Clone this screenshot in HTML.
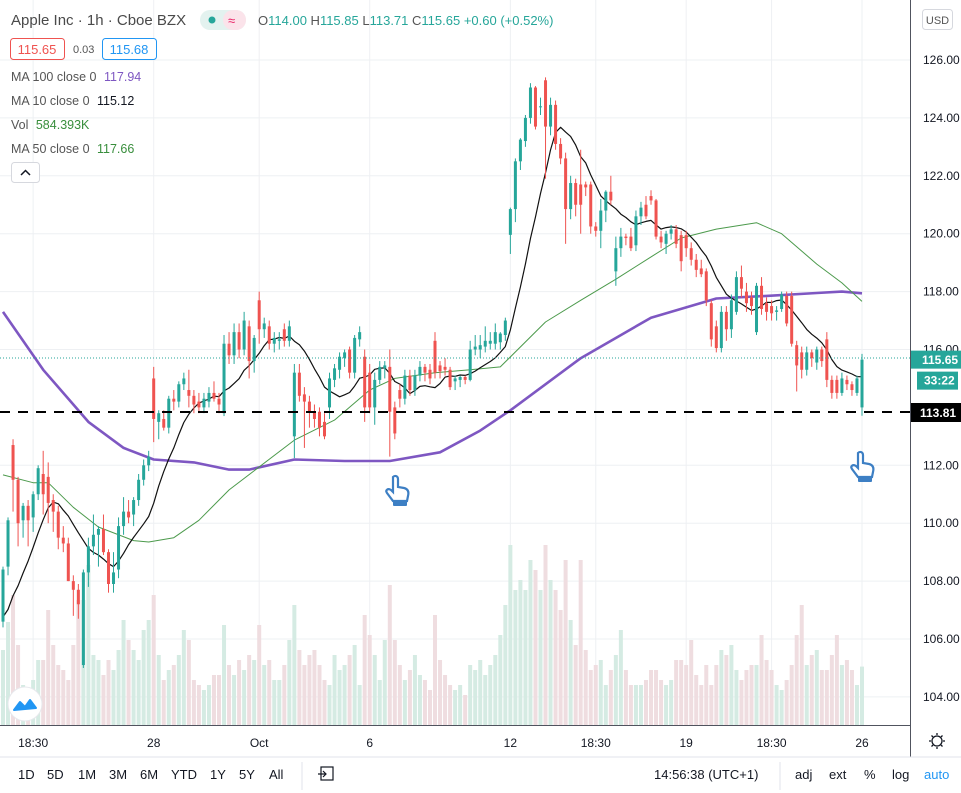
<!DOCTYPE html>
<html><head><meta charset="utf-8"><style>
html,body{margin:0;padding:0;background:#fff;width:961px;height:793px;overflow:hidden;font-family:"Liberation Sans",sans-serif;}
svg{display:block}
text{font-family:"Liberation Sans",sans-serif;}
</style></head><body>
<svg id="chart" width="961" height="793" viewBox="0 0 961 793" xmlns="http://www.w3.org/2000/svg">
<rect x="0" y="0" width="961" height="793" fill="#fff"/>
<g id="grid"></g>
<g id="vols"></g>
<g id="mas"></g>
<g id="candles"></g>
<line x1="0" y1="358" x2="910" y2="358" stroke="#26a69a" stroke-width="1" stroke-dasharray="1,2" id="lastline"/>
<line x1="0" y1="412" x2="910" y2="412" stroke="#000" stroke-width="2" stroke-dasharray="10,8" id="hline"/>
<g id="axis"></g>
<g id="taxis"></g>

<!-- header -->
<text x="11" y="25" font-size="15" fill="#4a4a4a">Apple Inc · 1h · Cboe BZX</text>
<rect x="200" y="10" width="46" height="20" rx="10" fill="#e3f2ef"/>
<rect x="223" y="10" width="23" height="20" rx="10" fill="#fbe3ea"/>
<circle cx="212" cy="20" r="3.5" fill="#26a69a"/>
<text x="228" y="25" font-size="13" fill="#e91e63">≈</text>
<text x="258" y="25" font-size="13" fill="#26a69a"><tspan fill="#555">O</tspan>114.00 <tspan fill="#555">H</tspan>115.85 <tspan fill="#555">L</tspan>113.71 <tspan fill="#555">C</tspan>115.65 +0.60 (+0.52%)</text>
<rect x="10.5" y="38.5" width="54" height="21" rx="3" fill="#fff" stroke="#ef5350"/>
<text x="37" y="54" font-size="13" fill="#ef5350" text-anchor="middle">115.65</text>
<text x="73" y="53" font-size="11" fill="#555">0.03</text>
<rect x="102.5" y="38.5" width="54" height="21" rx="3" fill="#fff" stroke="#2196f3"/>
<text x="129" y="54" font-size="13" fill="#2196f3" text-anchor="middle">115.68</text>
<text x="11" y="81" font-size="12.5" fill="#555">MA 100 close 0 <tspan fill="#7e57c2" dx="4">117.94</tspan></text>
<text x="11" y="105" font-size="12.5" fill="#555">MA 10 close 0 <tspan fill="#131722" dx="4">115.12</tspan></text>
<text x="11" y="129" font-size="12.5" fill="#555">Vol <tspan fill="#388e3c" dx="4">584.393K</tspan></text>
<text x="11" y="153" font-size="12.5" fill="#555">MA 50 close 0 <tspan fill="#388e3c" dx="4">117.66</tspan></text>
<rect x="11.5" y="162.5" width="28" height="20" rx="3" fill="#fff" stroke="#d6d8de"/>
<path d="M21 175 L25.5 170.5 L30 175" fill="none" stroke="#131722" stroke-width="1.5"/>

<!-- hand markers -->
<g transform="translate(385,475)">
<path d="M8 2 C10 0 13 1 13 4 L13 12 L19 13 C23 14 24 17 23 21 L22 26 L8 26 L2 18 C0 15 3 13 6 15 L8 17 Z" fill="#fff" stroke="#3d7fc4" stroke-width="2.2"/>
<rect x="8" y="25" width="14" height="6" rx="1" fill="#3d7fc4"/>
</g>
<g transform="translate(850,451)">
<path d="M8 2 C10 0 13 1 13 4 L13 12 L19 13 C23 14 24 17 23 21 L22 26 L8 26 L2 18 C0 15 3 13 6 15 L8 17 Z" fill="#fff" stroke="#3d7fc4" stroke-width="2.2"/>
<rect x="8" y="25" width="14" height="6" rx="1" fill="#3d7fc4"/>
</g>

<!-- logo -->
<circle cx="25" cy="704" r="17" fill="#fff" stroke="#e6e8ec"/>
<path d="M14 710 L20 702 L25 707 L30 700 L36 708 Z" fill="#2196f3" stroke="#2196f3" stroke-width="2" stroke-linejoin="round"/>

<!-- right axis stuff -->
<rect x="922.5" y="9.5" width="30" height="20" rx="3" fill="#fff" stroke="#d6d8de"/>
<text x="937.5" y="24" font-size="11" fill="#555" text-anchor="middle">USD</text>

<!-- bottom toolbar -->
<line x1="0" y1="757" x2="961" y2="757" stroke="#e0e3eb"/>
<g font-size="13" fill="#131722">
<text x="18" y="779">1D</text>
<text x="47" y="779">5D</text>
<text x="78" y="779">1M</text>
<text x="109" y="779">3M</text>
<text x="140" y="779">6M</text>
<text x="171" y="779">YTD</text>
<text x="210" y="779">1Y</text>
<text x="239" y="779">5Y</text>
<text x="269" y="779">All</text>
</g>
<line x1="302" y1="762" x2="302" y2="790" stroke="#e0e3eb"/>
<g><rect x="321" y="767" width="12" height="13" fill="none" stroke="#131722" stroke-width="1.2"/><path d="M318 774 L326 774 M323 771 L326 774 L323 777" stroke="#131722" fill="none" stroke-width="1.2"/></g>
<text x="654" y="779" font-size="13" fill="#131722">14:56:38 (UTC+1)</text>
<line x1="780" y1="762" x2="780" y2="790" stroke="#e0e3eb"/>
<text x="795" y="779" font-size="13" fill="#131722">adj</text>
<text x="829" y="779" font-size="13" fill="#131722">ext</text>
<text x="864" y="779" font-size="13" fill="#131722">%</text>
<text x="892" y="779" font-size="13" fill="#131722">log</text>
<text x="924" y="779" font-size="13" fill="#2196f3">auto</text>
<g><circle cx="937" cy="741" r="5" fill="none" stroke="#131722" stroke-width="1.3"/><path d="M937 733 V735 M937 747 V749 M929 741 H931 M943 741 H945 M931.5 735.5 L933 737 M941 745 L942.5 746.5 M931.5 746.5 L933 745 M941 737 L942.5 735.5" stroke="#131722" stroke-width="1.3"/></g>
</svg>
<script>
const opens=[106.6,108.5,112.7,111.5,110.1,110.6,110.2,111.0,111.7,111.6,110.8,110.4,109.5,109.3,108.0,107.7,105.1,108.3,109.2,109.6,109.8,109.0,107.9,108.4,109.9,110.4,110.3,110.8,111.5,112.0,115.0,113.5,113.6,113.3,114.3,114.2,114.8,114.6,114.4,114.2,114.0,114.2,114.5,114.3,113.8,116.2,115.8,116.6,116.0,116.8,115.6,117.7,116.7,116.8,116.2,116.3,116.7,116.3,113.0,115.2,114.45,114.2,113.85,113.85,113.5,114.0,114.95,115.3,115.7,116.0,115.2,116.35,115.75,115.2,114.0,114.95,115.35,115.4,114.0,114.6,114.3,115.1,114.6,115.1,115.4,115.3,116.3,115.45,115.4,115.3,114.9,114.95,115.05,114.95,116.0,116.0,116.1,116.2,116.2,116.25,116.5,119.96,120.85,122.5,123.2,124.0,125.05,124.4,125.3,123.7,124.45,123.1,122.6,120.85,121.75,121.7,121.7,121.7,120.25,120.1,120.8,121.45,118.7,119.5,119.9,119.9,119.6,120.6,121.0,121.3,121.15,119.9,119.65,120.0,120.15,119.95,119.95,119.5,119.1,118.8,118.7,117.6,116.8,116.05,117.3,116.7,117.3,118.5,118.0,117.8,116.6,118.2,117.6,117.5,117.3,117.4,117.85,117.85,116.15,115.9,115.3,115.9,115.55,116.0,116.35,114.95,114.95,114.5,114.95,114.8,114.5,114.0];
const highs=[108.5,110.2,112.9,111.6,110.7,110.8,111.1,112.0,112.5,112.1,111.0,110.6,109.9,109.5,108.2,107.9,108.4,109.5,110.3,109.9,110.3,109.1,109.0,110.2,110.9,110.8,110.9,111.7,112.2,112.5,115.4,113.9,113.9,114.4,114.6,114.9,115.2,115.3,114.6,114.5,114.5,114.7,114.9,114.5,116.5,116.6,116.9,116.9,117.3,117.0,116.5,118.0,117.1,117.0,116.6,116.6,116.9,117.0,115.5,115.5,114.7,114.4,114.1,114.0,113.8,115.2,115.5,115.9,116.0,116.1,116.5,116.8,116.0,115.5,115.2,115.6,115.6,116.0,114.2,114.8,115.3,115.3,115.3,115.6,115.5,115.5,116.6,115.6,115.7,115.4,115.1,115.1,115.1,116.3,116.5,116.5,116.8,116.6,116.9,116.6,117.1,120.9,122.6,123.3,124.1,125.2,125.1,124.7,125.4,124.7,124.6,123.3,122.8,122.0,121.9,122.9,121.8,121.8,120.4,121.2,121.5,122.0,119.9,120.2,120.0,120.2,120.8,121.1,121.3,121.5,121.2,120.1,120.1,120.3,120.3,120.1,120.1,119.7,119.3,119.1,118.8,117.7,117.0,117.5,117.5,117.9,118.7,118.9,118.3,118.0,118.3,118.5,117.8,117.7,117.5,118.0,118.0,118.0,116.3,116.1,116.1,116.0,116.1,116.1,116.6,115.1,115.1,115.2,115.1,114.9,115.1,115.85];
const lows=[106.4,108.2,110.4,109.2,109.5,109.2,109.7,110.8,110.3,110.0,109.7,109.1,109.0,108.0,106.8,106.7,105.0,107.8,108.9,108.5,108.9,107.6,107.6,108.1,109.6,110.0,109.9,110.6,111.3,111.8,112.8,112.9,113.2,113.1,113.9,114.0,114.6,114.0,113.8,113.8,113.8,114.0,114.2,113.8,113.7,115.5,115.5,115.7,115.8,115.0,115.2,116.2,116.4,116.0,115.9,116.0,116.1,116.1,112.25,114.2,112.6,113.3,113.3,113.0,112.9,113.6,114.7,115.0,115.4,115.0,115.0,116.1,113.5,113.8,113.4,114.8,115.0,112.3,112.9,114.0,114.1,114.4,114.4,114.9,114.9,114.8,115.0,115.0,115.1,114.6,114.6,114.7,114.8,114.9,115.8,115.7,115.9,116.0,116.0,116.0,116.3,119.3,120.4,122.2,123.0,123.8,123.6,124.1,121.9,123.4,122.9,122.4,119.65,120.5,120.6,120.0,121.3,120.0,119.9,119.5,120.4,121.0,118.2,119.2,119.6,119.4,119.4,120.3,120.5,121.0,119.8,119.5,119.3,119.8,119.5,118.7,119.2,118.9,118.5,118.5,117.5,116.1,115.9,115.9,116.3,116.4,117.2,117.8,117.3,117.2,116.5,117.2,117.0,117.0,117.0,117.3,116.8,116.1,114.55,115.0,115.1,115.4,115.3,115.4,114.7,114.3,114.3,114.4,114.6,114.4,114.4,113.71];
const closes=[108.4,110.1,111.5,110.0,110.6,110.1,111.0,111.9,111.0,110.7,110.4,109.5,109.3,108.0,107.7,107.2,108.3,109.2,109.6,109.8,109.0,107.9,108.3,109.9,110.4,110.2,110.8,111.5,112.0,112.3,113.6,113.8,113.3,114.3,114.2,114.8,115.0,114.4,114.1,114.0,114.3,114.5,114.3,114.1,116.2,115.8,116.6,116.0,117.0,115.6,116.4,116.7,116.9,116.2,116.4,116.35,116.3,116.8,115.2,114.4,114.2,113.85,113.6,113.3,113.0,115.0,115.35,115.75,115.9,115.2,116.4,116.6,114.0,114.0,114.95,115.4,115.45,113.85,113.1,114.3,115.1,114.6,115.1,115.4,115.2,115.0,115.2,115.25,115.3,114.7,115.0,115.05,114.95,116.0,116.1,116.15,116.3,116.3,116.6,116.55,117.0,120.85,122.5,123.25,124.0,125.05,123.7,124.4,123.7,124.45,123.1,122.6,120.85,121.75,121.0,121.0,121.6,120.25,120.1,120.8,121.45,121.15,119.5,119.9,119.85,119.5,120.6,120.9,120.6,121.15,119.9,119.7,120.0,120.15,119.65,119.05,119.5,119.1,118.75,118.6,117.7,116.35,116.05,117.3,116.7,117.7,118.5,118.1,117.6,117.5,118.2,117.4,117.3,117.25,117.35,117.9,116.9,116.2,115.45,115.3,115.9,115.7,116.0,115.6,114.95,114.5,114.5,115.0,114.8,114.6,115.0,115.65];
const priorCloses=[107.5,106.8,106.5,106.2,106.0,106.3,106.8,106.5,106.6];
const volumes=[750,1030,1300,800,400,350,450,650,650,1150,800,600,550,450,800,1250,1250,1600,700,650,500,650,550,750,1050,850,750,650,950,1050,1300,700,450,550,600,700,950,850,450,400,350,400,500,500,1000,600,500,650,550,700,650,1000,600,650,450,450,600,850,1200,750,600,700,750,600,450,400,700,550,600,700,800,400,1100,900,700,450,850,1400,850,600,450,550,700,500,450,350,1100,650,500,400,350,400,300,600,550,650,500,600,700,900,1200,1800,1350,1450,1350,1650,1550,1350,1800,1450,1350,1150,1650,1050,800,1650,750,550,600,650,400,550,700,950,550,400,400,400,450,550,550,450,400,450,650,650,600,850,500,400,600,400,600,750,700,800,550,450,550,600,600,900,650,550,400,350,450,600,900,1200,600,700,750,550,550,700,900,600,650,550,400,584];
const ma50Idx=[0,6,9,14,19,26,29,34,39,45,58,66,73,78,86,93,99,108,115,122,129,135,142,150,155,162,167,171];
const ma50Vals=[111.67,111.4,111.4,110.55,109.87,109.4,109.35,109.5,110.1,111.15,112.87,113.56,114.6,115.0,115.2,115.3,115.4,116.95,117.7,118.43,119.2,119.85,120.16,120.38,120.0,118.95,118.3,117.66];
const ma100Idx=[0,8,17,24,30,38,45,49,58,68,77,87,95,101,115,129,142,152,162,167,171];
const ma100Vals=[117.3,115.3,113.5,112.6,112.2,112.1,111.85,111.85,112.2,112.15,112.15,112.45,113.2,113.9,115.7,117.1,117.76,117.85,117.95,118.0,117.94];
const priceTicks=[126,124,122,120,118,116,112,110,108,106,104];
const timeLabels=["18:30","28","Oct","6","12","18:30","19","18:30","26"];
const timeIdx=[6,30,51,73,101,118,136,153,171];

const NS="http://www.w3.org/2000/svg";
const n=Math.min(opens.length,highs.length,lows.length,closes.length);
const xS=i=>3+i*(859/(n-1));
const yS=p=>60+(126-p)*28.95;
const volH=v=>v/10;
function mk(tag,attrs,parent){const e=document.createElementNS(NS,tag);for(const k in attrs)e.setAttribute(k,attrs[k]);parent.appendChild(e);return e;}
const grid=document.getElementById('grid');
priceTicks.forEach(p=>{const l=mk('line',{x1:0,x2:910,y1:yS(p),y2:yS(p),stroke:'#eef0f3'},grid);

});
timeIdx.forEach(i=>{const l=mk('line',{x1:xS(i),x2:xS(i),y1:0,y2:725,stroke:'#eef0f3'},grid);

});
const vg=document.getElementById('vols');
for(let i=0;i<n;i++){const v=volumes[i]||0;const up=closes[i]>=opens[i];const h=volH(v);
const r=mk('rect',{x:xS(i)-2,y:725-h,width:4,height:h,fill:up?'#d5ebe3':'#efdde0'},vg);

}
const mg=document.getElementById('mas');
function poly(pts,color,w,name){const p=mk('polyline',{points:pts.map(q=>q[0].toFixed(1)+','+q[1].toFixed(1)).join(' '),fill:'none',stroke:color,'stroke-width':w,'stroke-linejoin':'round'},mg);

}
poly(ma100Idx.map((k,j)=>[xS(k),yS(ma100Vals[j])]),'#7e57c2',2.6,'ma100-line');
poly(ma50Idx.map((k,j)=>[xS(k),yS(ma50Vals[j])]),'#4c9a4c',1,'ma50-line');
const all=priorCloses.concat(closes);const ma10=[];
for(let i=0;i<n;i++){let s=0;for(let j=0;j<10;j++)s+=all[i+j];ma10.push([xS(i),yS(s/10)]);}
poly(ma10,'#111',1.2,'ma10-line');
const cg=document.getElementById('candles');
for(let i=0;i<n;i++){const up=closes[i]>=opens[i];const c=up?'#26a69a':'#ef5350';const x=xS(i);
const w=mk('line',{x1:x,x2:x,y1:yS(highs[i]),y2:yS(lows[i]),stroke:c,'stroke-width':1},cg);


const t=yS(Math.max(opens[i],closes[i])),b=yS(Math.min(opens[i],closes[i]));
const r=mk('rect',{x:x-1.5,y:t,width:3,height:Math.max(1,b-t),fill:c},cg);

}
const ax=document.getElementById('axis');
mk('line',{x1:910.5,x2:910.5,y1:0,y2:757,stroke:'#50535e'},ax);
mk('line',{x1:0,x2:910,y1:725.5,y2:725.5,stroke:'#50535e'},ax);
priceTicks.forEach(p=>{const t=mk('text',{x:923,y:yS(p)+4,'font-size':12,fill:'#131722'},ax);t.textContent=p.toFixed(2);

});
const lastC=closes[n-1];
const b1=mk('rect',{x:911,y:yS(lastC)-9,width:50,height:18,fill:'#26a69a'},ax);


const t1=mk('text',{x:922,y:yS(lastC)+4.5,'font-size':12,fill:'#fff','font-weight':'bold'},ax);t1.textContent=lastC.toFixed(2);


const b2=mk('rect',{x:917,y:yS(lastC)+12,width:41,height:18,fill:'#26a69a'},ax);


const t2=mk('text',{x:924,y:yS(lastC)+25,'font-size':12,fill:'#fff','font-weight':'bold'},ax);t2.textContent='33:22';


const b3=mk('rect',{x:911,y:403,width:50,height:19,fill:'#000'},ax);


const t3=mk('text',{x:920,y:417,'font-size':12,fill:'#fff','font-weight':'bold'},ax);t3.textContent='113.81';


const ta=document.getElementById('taxis');
timeLabels.forEach((s,j)=>{const t=mk('text',{x:xS(timeIdx[j]),y:747,'font-size':12,fill:'#131722','text-anchor':'middle'},ta);t.textContent=s;

});
</script>
</body></html>
